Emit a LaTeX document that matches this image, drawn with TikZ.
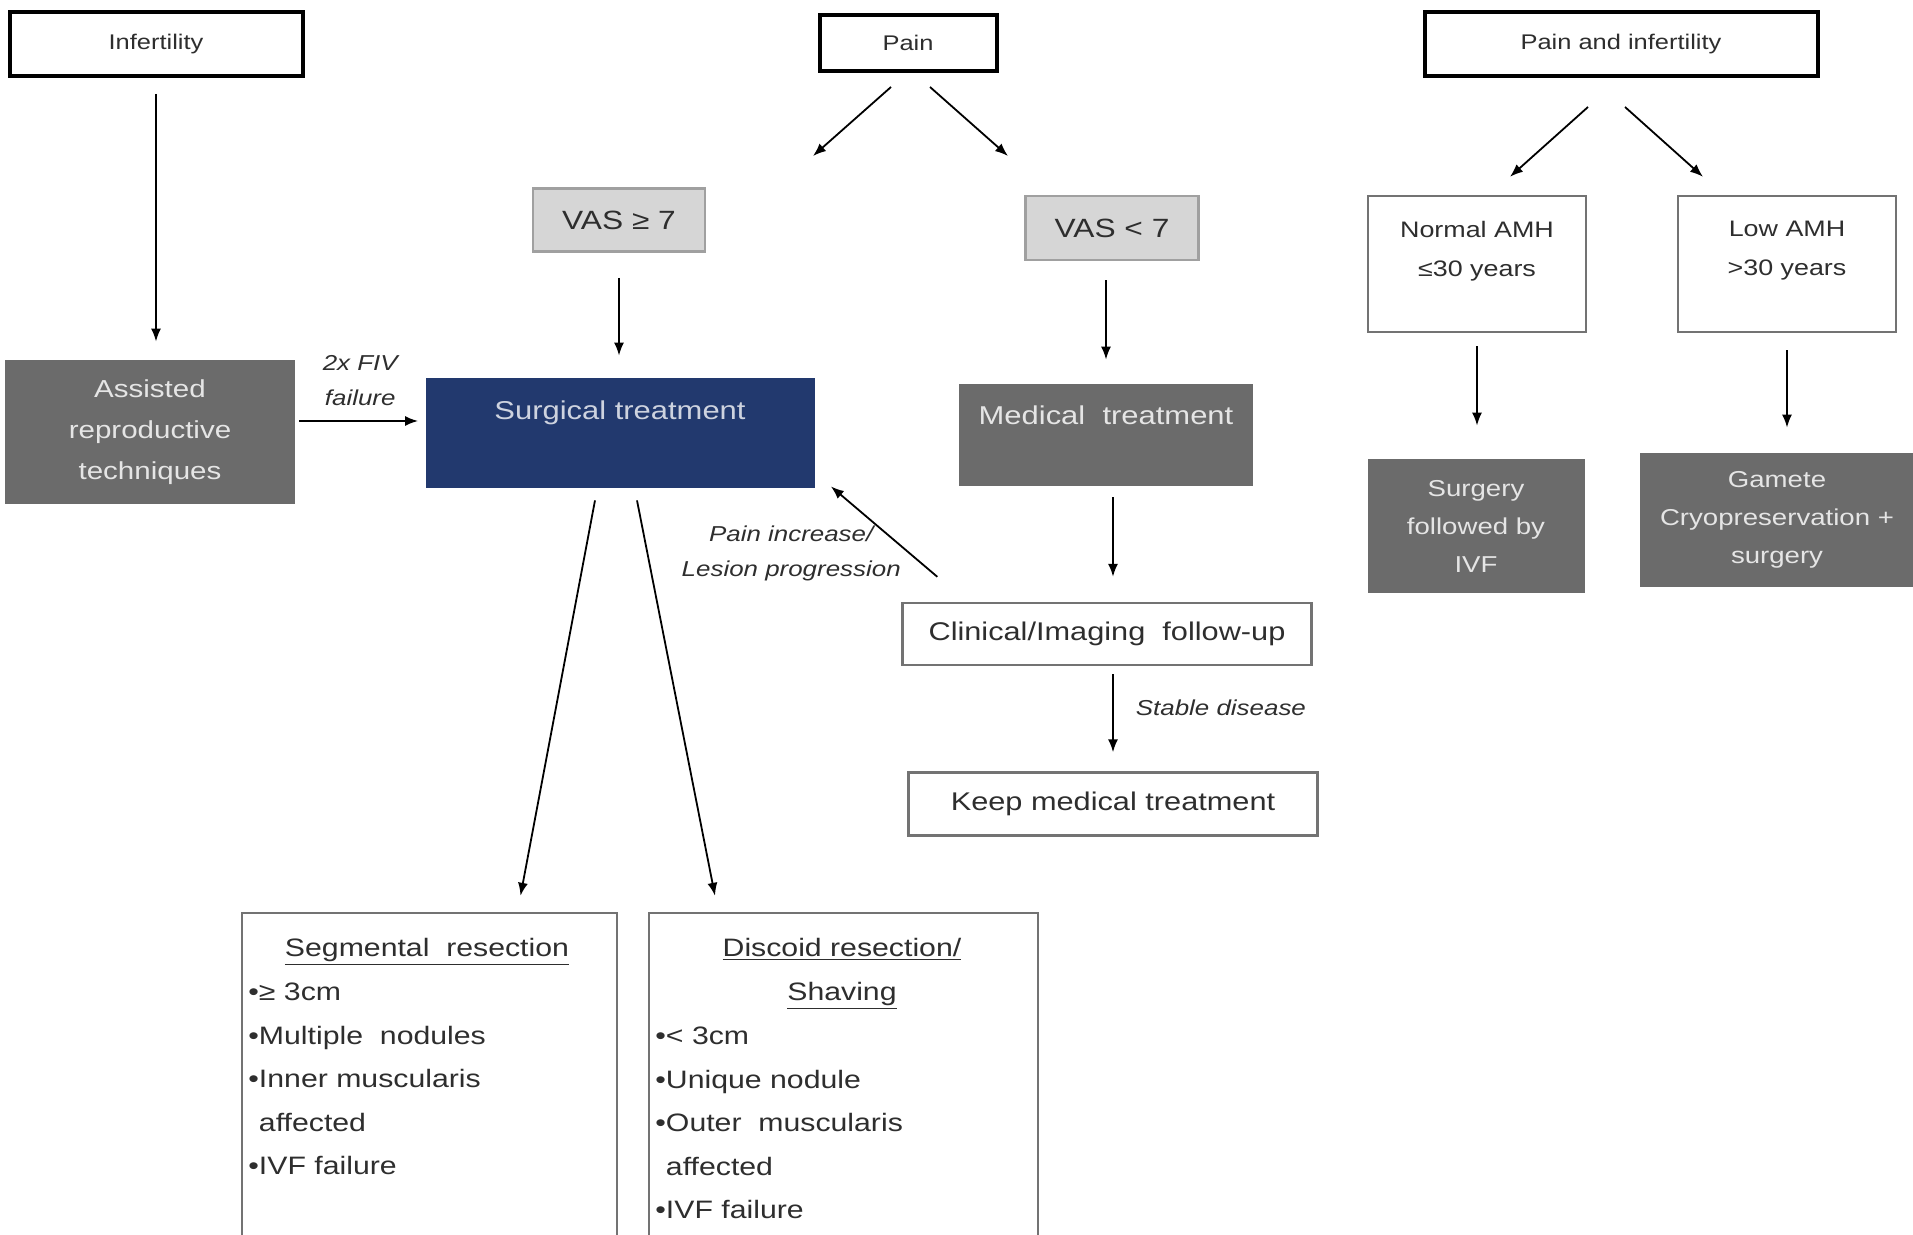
\documentclass[tikz,border=0pt]{standalone}
\usepackage{fontspec}
\setmainfont{Liberation Sans}[FakeStretch=1.2]
\usetikzlibrary{arrows.meta}

\definecolor{navy}{HTML}{22396E}
\definecolor{boxgray}{HTML}{6B6B6B}
\definecolor{vasgray}{HTML}{D6D6D6}
\definecolor{txtgray}{HTML}{2E2E2E}

\begin{document}
\begin{tikzpicture}[x=0.5pt,y=-0.5pt,
  >={Latex[length=6.5pt,width=5pt]},
  arr/.style={->,line width=0.9pt},
  topbox/.style={draw=black,line width=2pt,fill=white,text=txtgray,font=\fontsize{10.6}{13}\selectfont},
  vasbox/.style={draw=vasgray!75!black,line width=1.3pt,fill=vasgray,text=txtgray,font=\fontsize{13.2}{16}\selectfont},
  darkbox/.style={fill=boxgray,text=white!90!black,align=center,font=\fontsize{11.5}{19}\selectfont},
  whitebox/.style={draw=black!55,line width=1.2pt,fill=white,text=txtgray,font=\fontsize{12.8}{16}\selectfont},
  labeltxt/.style={text=txtgray,align=center,inner sep=1pt,font=\fontsize{10.8}{17.5}\selectfont\itshape},
  listtxt/.style={text=txtgray,font=\fontsize{12.6}{21.75}\selectfont}
]
\useasboundingbox (0,0) rectangle (1913,1235);

% top row
\node[topbox,minimum width=146.5pt,minimum height=32pt] (infert) at (156,44) {Infertility};
\node[topbox,minimum width=88.5pt,minimum height=28pt] (pain) at (908,43) {Pain};
\node[topbox,minimum width=196.5pt,minimum height=32pt] (painInf) at (1621,44) {Pain and infertility};

% left and middle
\node[darkbox,minimum width=145pt,minimum height=72pt,font=\fontsize{12.3}{20.5}\selectfont] (art) at (150,432) {Assisted\\reproductive\\techniques};
\node[vasbox,minimum width=86pt,minimum height=31.5pt] (vasge) at (619,220) {VAS ≥ 7};
\node[vasbox,minimum width=86.5pt,minimum height=32pt] (vaslt) at (1112,228) {VAS < 7};
\node[fill=navy,minimum width=194.5pt,minimum height=55pt] (surg) at (620,433) {};
\node[text=navy!22!white,font=\fontsize{12.9}{16}\selectfont] (surgtxt) at (620,413) {Surgical treatment};
\node[fill=boxgray,minimum width=147pt,minimum height=51pt] (med) at (1106,435) {};
\node[text=white!90!black,font=\fontsize{12.9}{16}\selectfont] (medtxt) at (1106,415) {Medical\ \ treatment};
\node[whitebox,minimum width=204.5pt,minimum height=31pt] (clin) at (1107,634) {Clinical/Imaging\ \ follow-up};
\node[whitebox,minimum width=204.5pt,minimum height=31.5pt] (keep) at (1113,804) {Keep medical treatment};

% surgical options
\node[whitebox,minimum width=187.5pt,minimum height=193.5pt] (seg) at (429.5,1106.5) {};
\node[listtxt] (segtitle) at (427,952) {\underline{Segmental\ \ resection}};
\node[listtxt,anchor=north west,align=left,inner sep=0pt] (seglist) at (248,970)
  {\strut•≥ 3cm\\•Multiple\ \ nodules\\•Inner muscularis\\\phantom{•}affected\\•IVF failure};
\node[whitebox,minimum width=194.5pt,minimum height=193.5pt] (disc) at (843.5,1106.5) {};
\node[listtxt,align=center] (disctitle) at (842,974) {\underline{Discoid resection/}\\\underline{Shaving}};
\node[listtxt,anchor=north west,align=left,inner sep=0pt] (disclist) at (655,1014)
  {\strut•< 3cm\\•Unique nodule\\•Outer\ \ muscularis\\\phantom{•}affected\\•IVF failure};

% right
\node[whitebox,minimum width=109pt,minimum height=68pt] (normal) at (1477,264) {};
\node[text=txtgray,align=center,font=\fontsize{11.2}{19.5}\selectfont] (normaltxt) at (1477,251) {Normal AMH\\≤30 years};
\node[whitebox,minimum width=109pt,minimum height=68pt] (low) at (1787,264) {};
\node[text=txtgray,align=center,font=\fontsize{11.2}{19.5}\selectfont] (lowtxt) at (1787,251) {Low AMH\\>30 years};
\node[darkbox,minimum width=108.5pt,minimum height=67pt] (surgivf) at (1476,526) {Surgery\\followed by\\IVF};
\node[darkbox,minimum width=137pt,minimum height=67pt] (gamete) at (1777,520) {Gamete\\Cryopreservation +\\surgery};

% arrows
\draw[arr,shorten <=8pt,shorten >=9pt] (infert.south) -- (infert.south |- art.north);
\draw[arr,shorten <=2pt,shorten >=3.5pt] ([yshift=5.5pt]art.east) -- ([yshift=5.5pt]art.east -| surg.west)
  node[midway,above=6pt,labeltxt] (fivlbl) {2x FIV\\failure};
\coordinate (painL) at (813,156);
\coordinate (painR) at (1008,156);
\draw[arr] ([shift={(-17,14)}]pain.south) -- (painL);
\draw[arr] ([shift={(22,14)}]pain.south) -- (painR);
\draw[arr,shorten <=12.5pt,shorten >=11pt] (vasge.south) -- (vasge.south |- surg.north);
\draw[arr,shorten <=9.5pt,shorten >=12pt] (med.north |- vaslt.south) -- (med.north);
\draw[arr,shorten <=5.5pt,shorten >=12.5pt] (keep.north |- med.south) -- (keep.north |- clin.north);
\draw[arr,shorten <=4pt,shorten >=9.5pt] (keep.north |- clin.south) -- (keep.north)
  node[pos=0.4,right=10pt,labeltxt] (stablelbl) {Stable disease};
\draw[arr] ([shift={(36,-25)}]clin.north west) -- ([shift={(16,-2)}]surg.south east)
  node[pos=0.26,left=3pt,labeltxt] (paininclbl) {Pain increase/\\Lesion progression};
\draw[arr] ([shift={(-25,12)}]surg.south) -- ([shift={(91,-16)}]seg.north);
\draw[arr] ([shift={(17,12)}]surg.south) -- ([shift={(-128.5,-16)}]disc.north);
\draw[arr] ([shift={(-33,29)}]painInf.south) -- ([shift={(33,-18)}]normal.north);
\draw[arr] ([shift={(4,29)}]painInf.south) -- ([shift={(-84,-18)}]low.north);
\draw[arr,shorten <=6.5pt,shorten >=16.5pt] (normal.south) -- (normal.south |- surgivf.north);
\draw[arr,shorten <=8.5pt,shorten >=12.5pt] (low.south) -- (low.south |- gamete.north);

\end{tikzpicture}
\end{document}
